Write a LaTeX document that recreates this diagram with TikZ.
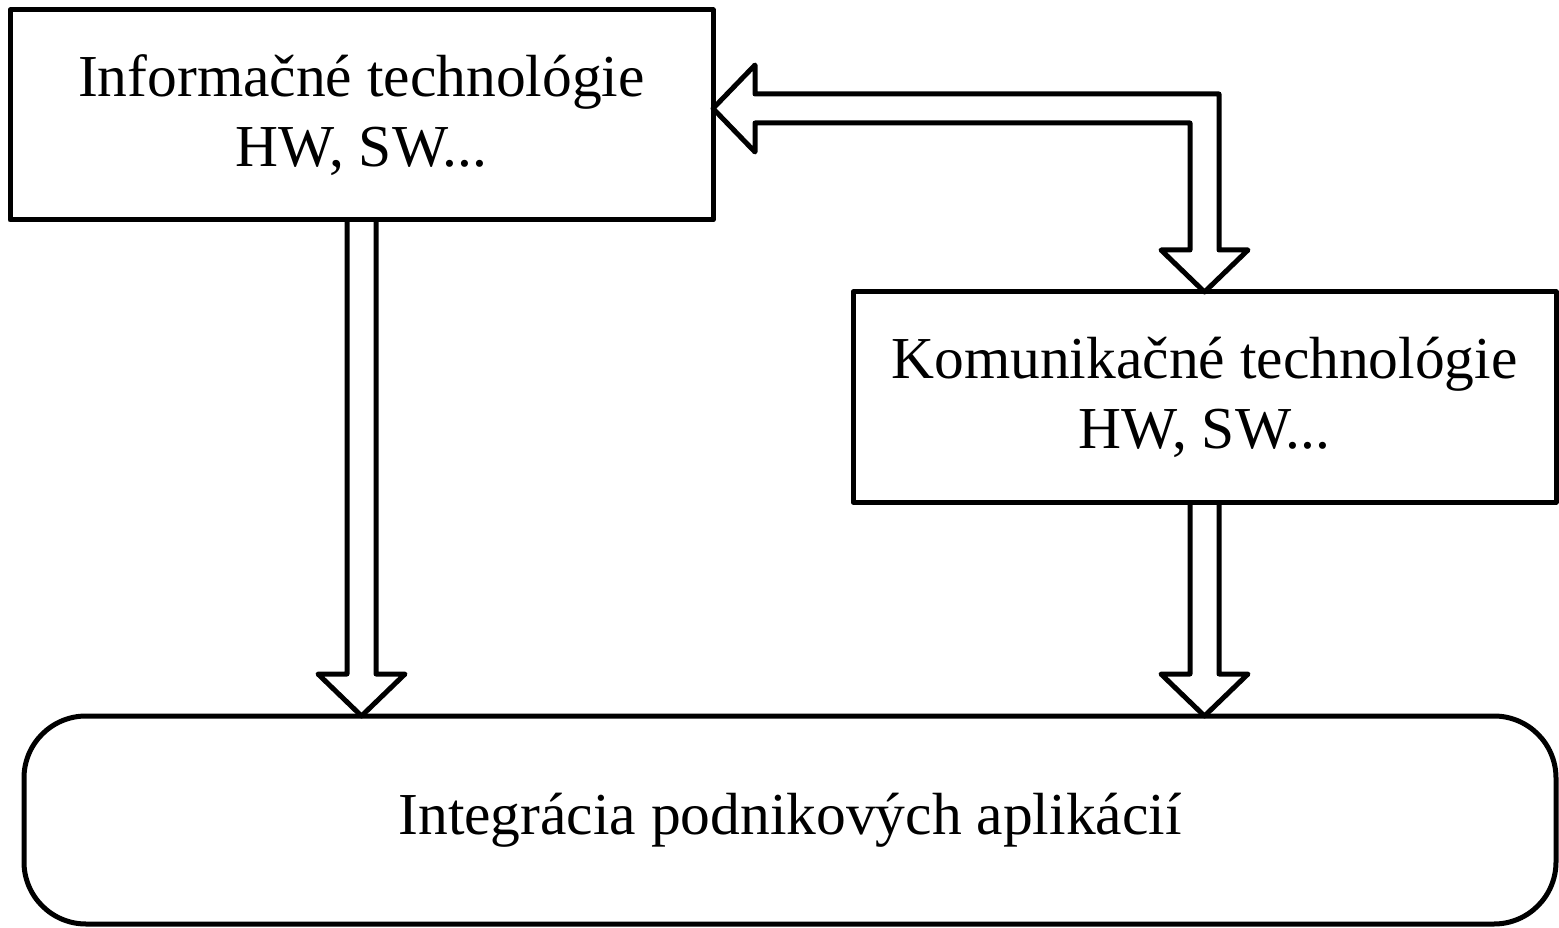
\documentclass[tikz,border=0pt]{standalone}
\usepackage{fontspec}
\setmainfont{Liberation Serif}
\usetikzlibrary{calc}
\begin{document}
\begin{tikzpicture}[x=1pt,y=-1pt,
  line width=5pt, line join=round,
  techbox/.style={draw, rectangle, inner sep=0pt, outer sep=0pt, align=center,
    font=\fontsize{59.5}{70}\selectfont},
  hollow/.style={draw, line width=5pt, line join=round}]
\useasboundingbox (0,0) rectangle (1559,928);

% boxes
\node[techbox, minimum width=703, minimum height=210] (info) at (361.5,115)
  {Informačné technológie\\HW, SW...};
\node[techbox, minimum width=703, minimum height=210] (komu) at (1204.5,397)
  {Komunikačné technológie\\HW, SW...};
\node[techbox, rounded corners=62, minimum width=1532, minimum height=208] (integ) at (790,820)
  {Integrácia podnikových aplikácií};

% hollow arrow: Informačné -> Integrácia
\coordinate (tA) at (info.south |- integ.north);
\draw[hollow] ($(info.south)+(-14.5,0)$) -- ($(tA)+(-14.5,-42)$) -- ++(-29,0)
  -- (tA) -- ++(43.5,-42) -- ++(-29,0) -- ($(info.south)+(14.5,0)$);

% hollow arrow: Komunikačné -> Integrácia
\coordinate (tB) at (komu.south |- integ.north);
\draw[hollow] ($(komu.south)+(-14.5,0)$) -- ($(tB)+(-14.5,-42)$) -- ++(-29,0)
  -- (tB) -- ++(43.5,-42) -- ++(-29,0) -- ($(komu.south)+(14.5,0)$);

% bent double-headed hollow arrow between the two technology boxes
\coordinate (lt) at ($(info.east)+(0,-6.5)$);
\coordinate (kt) at (komu.north);
\coordinate (cOut) at ($(kt |- lt)+(14.5,-14.5)$);
\coordinate (cIn) at ($(kt |- lt)+(-14.5,14.5)$);
\draw[hollow] (lt) -- ++(42,-43.5) -- ++(0,29) -- (cOut)
  -- ($(kt)+(14.5,-42)$) -- ++(29,0) -- (kt) -- ++(-43.5,-42) -- ++(29,0)
  -- (cIn) -- ($(lt)+(42,14.5)$) -- ++(0,29) -- cycle;
\end{tikzpicture}
\end{document}
